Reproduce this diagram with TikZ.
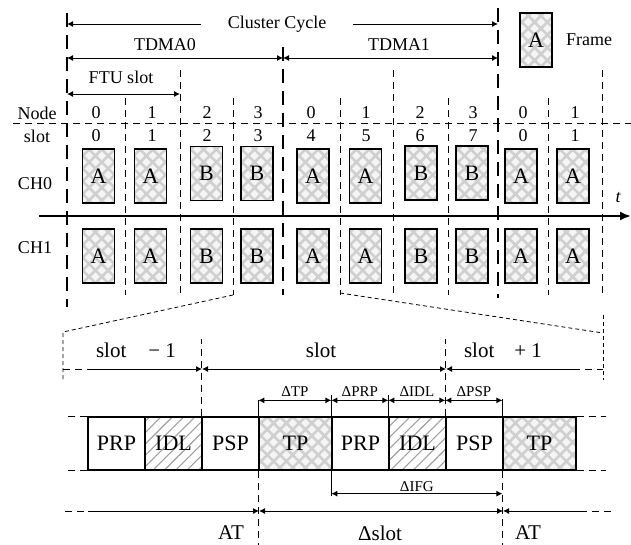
\documentclass[tikz,border=0pt]{standalone}
\usepackage{fontspec}
\setmainfont{Liberation Serif}
\usetikzlibrary{arrows.meta,patterns.meta,positioning}

\tikzset{
  thin/.style={line width=0.9pt},
  bnd/.style={line width=2pt, dash pattern=on 14pt off 8pt},
  div/.style={line width=1pt, dash pattern=on 7pt off 5pt},
  fine/.style={line width=0.8pt, dash pattern=on 4pt off 3pt},
  cross/.style={preaction={fill=gray!8},
    preaction={pattern={Lines[angle=45,distance=9pt,line width=2.6pt]}, pattern color=gray!38},
    preaction={pattern={Lines[angle=-45,distance=9pt,line width=2.6pt]}, pattern color=gray!38}},
  hatch/.style={preaction={pattern={Lines[angle=45,distance=8pt,line width=1.1pt]}, pattern color=gray!75}},
  plain/.style={},
  frm/.style={draw, cross, line width=1.2pt, minimum width=32pt, minimum height=54pt,
    inner sep=0pt, font=\fontsize{22}{24}\selectfont},
  seg/.style={draw, line width=1.3pt, minimum height=53pt, inner sep=0pt,
    font=\fontsize{22}{24}\selectfont},
  big/.style={font=\fontsize{21}{24}\selectfont},
  small/.style={font=\fontsize{15}{17}\selectfont, inner sep=1pt},
}

\begin{document}
\begin{tikzpicture}[x=1pt, y=-1pt, font=\fontsize{18}{21}\selectfont,
    >={Latex[length=6pt,width=6pt]}]
  \useasboundingbox (0,0) rectangle (631,544);

  % Cluster cycle and the two TDMA rounds
  \coordinate (cc0) at (67,24);
  \coordinate (cc1) at (498,24);
  \node[inner xsep=27pt] (cc) at (277,24) {Cluster Cycle};
  \draw[thin,->] (cc) -- (cc0);
  \draw[thin,->] (cc) -- (cc1);

  \coordinate (td0) at (67,58);
  \coordinate (td1) at (283,58);
  \coordinate (td2) at (498,58);
  \draw[thin,<->] (td0) -- (td1);
  \draw[thin,<->] (td1) -- (td2);
  \node (tdma0) at (165,45) {TDMA0};
  \node (tdma1) at (399,45) {TDMA1};

  \coordinate (ftu0) at (67,94);
  \coordinate (ftu1) at (180,94);
  \draw[thin,<->] (ftu0) -- (ftu1);
  \node (ftu) at (121,77) {FTU slot};

  % Legend
  \node[frm] (leg) at (536,40) {A};
  \node[right=10pt of leg] (legtxt) {Frame};

  % Slot borders
  \draw[bnd] (67,13) -- (67,307);
  \draw[bnd] (283,47) -- (283,295);
  \draw[bnd] (498,8) -- (498,298);
  \foreach \x in {180,393,602}
    \draw[div] (\x,70) -- (\x,295);
  \foreach \x in {125,233,340,448,548}
    \draw[div] (\x,98) -- (\x,295);
  \draw[div] (13,123) -- (631,123);

  % Row labels
  \node (lnode) at (37,113) {Node};
  \node (lslot) at (37,136) {slot};
  \node (lch0) at (35,184) {CH0};
  \node (lch1) at (35,248) {CH1};

  \foreach \x/\n/\s [count=\i] in {96/0/0, 152/1/1, 207/2/2, 258/3/3, 311/0/4,
      366/1/5, 420/2/6, 473/3/7, 523/0/0, 575/1/1} {
    \node (nd\i) at (\x,113) {\n};
    \node (sl\i) at (\x,136) {\s};
  }

  % Time axis
  \draw[line width=2pt, -{Latex[length=11pt,width=9pt]}] (39,216) -- (631,216);
  \node (tlbl) at (618,198) {\itshape t};

  % Frames on both channels
  \foreach \x/\l/\d [count=\i] in {98.5/A/0, 150.5/A/0, 206.5/B/-2.5, 257/B/-2.5,
      313/A/0, 365.5/A/0, 421/B/-3, 472/B/-3, 521/A/0, 573/A/0} {
    \node[frm] (fa\i) at (\x,176+\d) {\l};
    \node[frm] (fb\i) at (\x,256) {\l};
  }

  % Zoom onto one slot
  \coordinate (z0) at (233,295);
  \coordinate (z1) at (63,332);
  \coordinate (z2) at (63,380);
  \coordinate (z3) at (340,293);
  \coordinate (z4) at (603,333);
  \draw[fine] (z0) -- (z1) -- (z2);
  \draw[fine] (z3) -- (z4);
  \draw[fine] (603,315) -- (603,380);

  % Segments of the slot
  \foreach \n/\t/\c/\w/\s in {prpa/PRP/116.5/57/plain, idla/IDL/173.5/57/hatch,
      pspa/PSP/230.5/57/plain, tpa/TP/295.5/73/cross, prpb/PRP/360.5/57/plain,
      idlb/IDL/417.5/57/hatch, pspb/PSP/474.5/57/plain, tpb/TP/539.5/73/cross}
    \node[seg, minimum width=\w pt, \s] (\n) at (\c,443.5) {\t};

  \draw[div] (prpa.north west) -- ++(-23,0);
  \draw[div] (prpa.south west) -- ++(-23,0);
  \draw[div] (tpb.north east) -- ++(29,0);
  \draw[div] (tpb.south east) -- ++(29,0);

  % Slot row
  \coordinate (sa0) at (63,369);
  \coordinate (sa1) at (90,369);
  \coordinate (sa2) at (202,369);
  \coordinate (sa3) at (446,369);
  \coordinate (sa4) at (573,369);
  \coordinate (sa5) at (603,369);
  \draw[div] (sa0) -- (sa1);
  \draw[thin,->] (sa1) -- (sa2);
  \draw[thin,<->] (sa2) -- (sa3);
  \draw[thin,->] (sa4) -- (sa3);
  \draw[div] (sa4) -- (sa5);
  \draw[div] (pspa.north west) -- ++(0,-77);
  \draw[div] (pspb.north west) -- ++(0,-77);
  \node[big] (sprev) at (136,350) {slot\hspace{22pt}− 1};
  \node[big] (scur) at (321,350) {slot};
  \node[big] (snext) at (503,350) {slot\hspace{20pt}+ 1};

  % Interval marks
  \draw[thin] (tpa.north west) -- ++(0,-16);
  \draw[thin] (prpb.north west) -- ++(0,-21);
  \draw[thin] (idlb.north west) -- ++(0,-21);
  \draw[thin] (tpb.north west) -- ++(0,-17);
  \foreach \a/\b/\l in {tpa/prpb/ΔTP, prpb/idlb/ΔPRP, idlb/pspb/ΔIDL, pspb/tpb/ΔPSP}
    \draw[thin,<->] ([yshift=16pt]\a.north west) -- ([yshift=16pt]\b.north west)
      node[midway, above=2pt, small] {\l};

  \draw[thin] (prpb.south west) -- ++(0,25);
  \draw[thin,<->] ([yshift=-23pt]prpb.south west) -- ([yshift=-23pt]tpb.south west)
    node[midway, above=1pt, small] {ΔIFG};
  \draw[div] (tpa.south west) -- ++(0,74);
  \draw[div] (tpb.south west) -- ++(0,74);

  % Action time row
  \coordinate (ba0) at (65,511);
  \coordinate (ba1) at (88,511);
  \coordinate (ba2) at (259,511);
  \coordinate (ba3) at (503,511);
  \coordinate (ba4) at (580,511);
  \coordinate (ba5) at (612,511);
  \draw[div] (ba0) -- (ba1);
  \draw[thin,->] (ba1) -- (ba2);
  \draw[thin,<->] (ba2) -- (ba3);
  \draw[thin,->] (ba4) -- (ba3);
  \draw[div] (ba4) -- (ba5);
  \node[big] (at0) at (231,533) {AT};
  \node[big] (dslot) at (380,533) {Δslot};
  \node[big] (at1) at (528,533) {AT};
\end{tikzpicture}
\end{document}
